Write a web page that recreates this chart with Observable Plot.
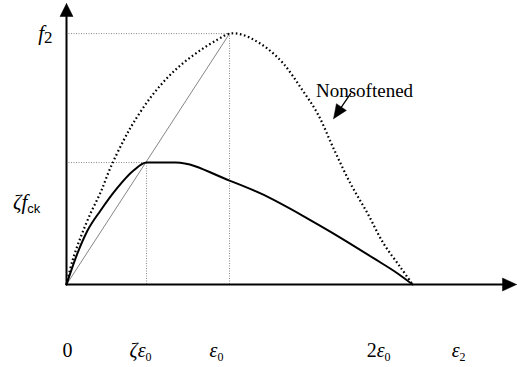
<!DOCTYPE html>
<html><head><meta charset="utf-8">
<script src="https://cdn.jsdelivr.net/npm/d3@7"></script>
<script src="https://cdn.jsdelivr.net/npm/@observablehq/plot@0.6"></script>
<style>html,body{margin:0;padding:0;background:#fff} svg{display:block}</style>
</head><body><div id="chart"></div>
<script>
// strain in units of ε0, stress in units of f2
const nonsoftStrain = [0, 0.037, 0.086, 0.147, 0.209, 0.270, 0.350, 0.411, 0.515, 0.620, 0.718, 0.822, 0.926, 1.0, 1.07, 1.15, 1.233, 1.331, 1.436, 1.540, 1.638, 1.742, 1.847, 1.945, 2.049, 2.123];
const nonsoftStress = [0, 0.096, 0.187, 0.283, 0.367, 0.466, 0.574, 0.645, 0.745, 0.825, 0.884, 0.934, 0.976, 1.0, 0.997, 0.975, 0.940, 0.880, 0.785, 0.681, 0.542, 0.402, 0.283, 0.163, 0.068, 0];
const softStrain = [0, 0.067, 0.129, 0.209, 0.313, 0.411, 0.491, 0.669, 1.0, 1.190, 1.479, 1.620, 1.883, 2.031, 2.123];
const softStress = [0, 0.124, 0.215, 0.295, 0.386, 0.454, 0.486, 0.486, 0.414, 0.363, 0.263, 0.210, 0.105, 0.044, 0];
const peakStrain = 1, peakStress = 1;          // ε0, f2
const softPeakStrain = 0.491, softPeakStress = 0.486; // ζε0, ζfck
const axisMaxX = 2.76, axisMaxY = 1.12;
const xTickLabels = ["0", "ζε_0", "ε_0", "2ε_0", "ε_2"];
const xTickAt = [0.006, 0.454, 0.92, 1.914, 2.405];
const xTickRow = -0.263;
const yTickLabels = ["f_2", "ζf_ck"];
const yTickAt = [1.0, 0.327];
const yTickCol = [-0.13, -0.245];
const noteText = "Nonsoftened";
const notePos = [1.828, 0.773];
const noteArrowFrom = [1.742, 0.761], noteArrowTo = [1.638, 0.661];

const W = 517, H = 367, mL = 66, mR = 1, mT = 3, mB = 83;
const sx = d3.scaleLinear([0, axisMaxX], [mL, W - mR]);
const sy = d3.scaleLinear([0, axisMaxY], [H - mB, mT]);
// filled triangle arrowhead (in data coords) given tip & tail in data coords
function head(tail, tip, len, half) {
  const tx = sx(tip[0]), ty = sy(tip[1]), fx = sx(tail[0]), fy = sy(tail[1]);
  const dx = tx - fx, dy = ty - fy, L = Math.hypot(dx, dy), ux = dx / L, uy = dy / L;
  const bx = tx - ux * len, by = ty - uy * len;
  const pts = [[tx, ty], [bx - uy * half, by + ux * half], [bx + uy * half, by - ux * half], [tx, ty]];
  return pts.map(([a, b]) => ({x: sx.invert(a), y: sy.invert(b)}));
}
const nonsoft = nonsoftStrain.map((x, i) => ({x, y: nonsoftStress[i]}));
const soft = softStrain.map((x, i) => ({x, y: softStress[i]}));
const xHead = head([0, 0], [axisMaxX, 0], 14, 6.5);
const yHead = head([0, 0], [0, axisMaxY], 13, 6.5);
const nHead = head(noteArrowFrom, noteArrowTo, 14, 6);
const headBase = nHead.slice(1, 3);
const noteLine = [{x: noteArrowFrom[0], y: noteArrowFrom[1]}, {x: (headBase[0].x + headBase[1].x) / 2, y: (headBase[0].y + headBase[1].y) / 2}];

const thin = {stroke: "#888", strokeWidth: 1, strokeDasharray: "1,1.5"};
const chart = Plot.plot({
  width: W, height: H, marginLeft: mL, marginRight: mR, marginTop: mT, marginBottom: mB,
  x: {domain: [0, axisMaxX], axis: null},
  y: {domain: [0, axisMaxY], axis: null},
  style: {background: "#fff", fontFamily: "Liberation Serif"},
  marks: [
    Plot.ruleY([peakStress], {x1: 0, x2: peakStrain, ...thin}),
    Plot.ruleX([peakStrain], {y1: 0, y2: peakStress, ...thin}),
    Plot.ruleY([softPeakStress], {x1: 0, x2: softPeakStrain, ...thin}),
    Plot.ruleX([softPeakStrain], {y1: 0, y2: softPeakStress, ...thin}),
    Plot.link([0], {x1: 0, y1: 0, x2: peakStrain, y2: peakStress, stroke: "#666", strokeWidth: 0.8}),
    Plot.line(nonsoft, {x: "x", y: "y", curve: "catmull-rom", stroke: "#000", strokeWidth: 2.2, strokeDasharray: "1.6,2.6", strokeLinecap: "butt"}),
    Plot.line(soft, {x: "x", y: "y", curve: "monotone-x", stroke: "#000", strokeWidth: 2}),
    Plot.line([{x: 0, y: 0}, {x: axisMaxX - 0.05, y: 0}], {x: "x", y: "y", stroke: "#000", strokeWidth: 2}),
    Plot.line([{x: 0, y: 0}, {x: 0, y: axisMaxY - 0.03}], {x: "x", y: "y", stroke: "#000", strokeWidth: 2}),
    Plot.line(xHead, {x: "x", y: "y", fill: "#000", stroke: "#000", strokeWidth: 0.5}),
    Plot.line(yHead, {x: "x", y: "y", fill: "#000", stroke: "#000", strokeWidth: 0.5}),
    Plot.line(nHead, {x: "x", y: "y", fill: "#000", stroke: "#000", strokeWidth: 0.5}),
    Plot.line(noteLine, {x: "x", y: "y", stroke: "#000", strokeWidth: 1.3}),
    Plot.text(xTickLabels, {x: (d, i) => xTickAt[i], y: xTickRow, text: d => d, fontSize: 20, fill: "#000", className: "mathlab"}),
    Plot.text(yTickLabels, {x: (d, i) => yTickCol[i], y: (d, i) => yTickAt[i], text: d => d, fontSize: 21, fill: "#000", className: "mathlab"}),
    Plot.text([noteText], {x: notePos[0], y: notePos[1], text: d => d, fontSize: 19, fill: "#000", fontFamily: "Liberation Serif"})
  ]
});
document.getElementById("chart").appendChild(chart);

// typeset simple math labels: italic letters, "_" introduces a subscript
d3.select(chart).selectAll(".mathlab text").each(function () {
  const s = this.textContent;
  const [base, sub] = s.split("_");
  const el = d3.select(this).text("");
  for (const ch of base) {
    el.append("tspan").text(ch).attr("font-style", /[a-zζε]/.test(ch) ? "italic" : "normal");
  }
  if (sub) {
    const isSans = /[a-z]/.test(sub);
    const big = sub === "2" && base === "f";
    el.append("tspan").text(sub)
      .attr("font-size", big ? 17 : isSans ? 13 : 12)
      .attr("font-family", isSans ? "Liberation Sans" : "Liberation Serif")
      .attr("dy", big ? 3 : 4);
  }
});
</script>
</body></html>
